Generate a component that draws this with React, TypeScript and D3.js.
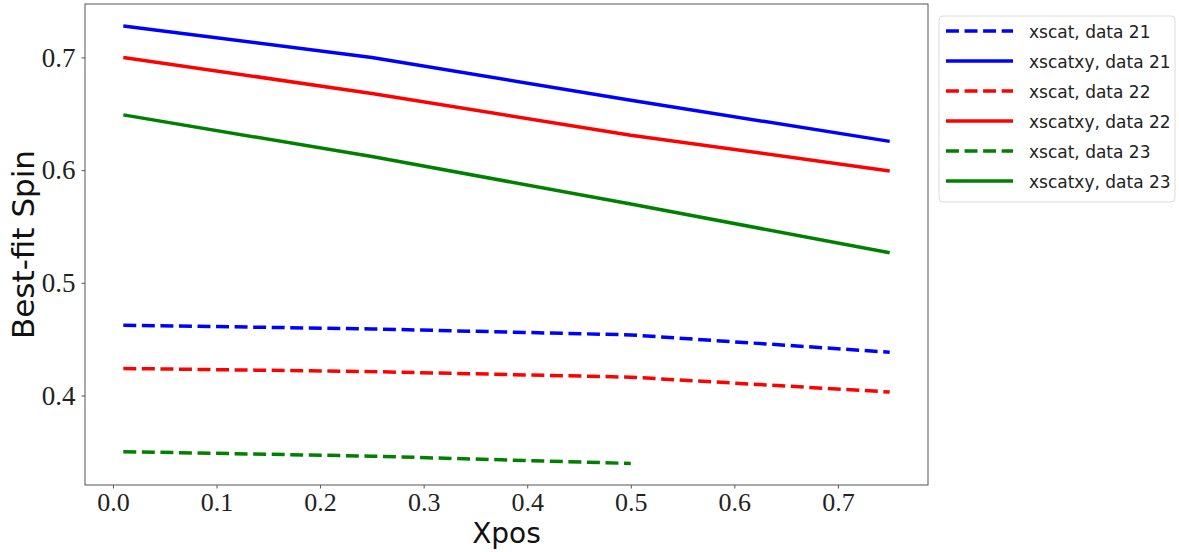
import { useRef, useEffect } from "react";
import * as d3 from "d3";

const xpos = [0.01, 0.25, 0.5, 0.75];

const xscat21 = [0.4624, 0.4591, 0.4538, 0.4384];
const xscatxy21 = [0.7278, 0.7, 0.662, 0.6255];
const xscat22 = [0.424, 0.4212, 0.4163, 0.4031];
const xscatxy22 = [0.7, 0.668, 0.631, 0.5993];
const xscat23 = [0.3502, 0.3462, 0.3397];
const xscatxy23 = [0.649, 0.612, 0.570, 0.5266];

const xTicks = [0.0, 0.1, 0.2, 0.3, 0.4, 0.5, 0.6, 0.7];
const yTicks = [0.4, 0.5, 0.6, 0.7];

const series = [
  { label: "xscat, data 21", values: xscat21, color: "#0000ff", dashed: true },
  { label: "xscatxy, data 21", values: xscatxy21, color: "#0000ff", dashed: false },
  { label: "xscat, data 22", values: xscat22, color: "#ff0000", dashed: true },
  { label: "xscatxy, data 22", values: xscatxy22, color: "#ff0000", dashed: false },
  { label: "xscat, data 23", values: xscat23, color: "#008000", dashed: true },
  { label: "xscatxy, data 23", values: xscatxy23, color: "#008000", dashed: false },
];

const App = () => {
  const ref = useRef<SVGSVGElement | null>(null);

  useEffect(() => {
    const width = 1179;
    const height = 552;
    const m = { left: 85, top: 4, right: 928, bottom: 485 };
    const lw = 3.5;
    const dash = "12.95,5.6";

    const svg = d3.select(ref.current);
    svg.selectAll("*").remove();
    svg.attr("width", width).attr("height", height);

    const x = d3.scaleLinear().domain([-0.027, 0.787]).range([m.left, m.right]);
    const y = d3.scaleLinear().domain([0.3206, 0.7474]).range([m.bottom, m.top]);

    const serif = "'Liberation Serif', 'Times New Roman', serif";
    const sans = "'DejaVu Sans', sans-serif";

    // lines
    const line = d3
      .line<number>()
      .x((_, i) => x(xpos[i]))
      .y((d) => y(d));

    const plot = svg.append("g");
    series.forEach((s) => {
      plot
        .append("path")
        .attr("d", line(s.values))
        .attr("fill", "none")
        .attr("stroke", s.color)
        .attr("stroke-width", lw)
        .attr("stroke-dasharray", s.dashed ? dash : null);
    });

    // frame
    svg
      .append("rect")
      .attr("x", m.left)
      .attr("y", m.top)
      .attr("width", m.right - m.left)
      .attr("height", m.bottom - m.top)
      .attr("fill", "none")
      .attr("stroke", "#555")
      .attr("stroke-width", 1);

    // x axis
    const xAxis = svg
      .append("g")
      .attr("transform", `translate(0,${m.bottom})`)
      .call(
        d3
          .axisBottom(x)
          .tickValues(xTicks)
          .tickFormat(d3.format(".1f"))
          .tickSize(3.5)
          .tickPadding(4)
      );
    xAxis.select(".domain").remove();
    xAxis.selectAll("line").attr("stroke", "#555");
    xAxis
      .selectAll("text")
      .attr("fill", "#222")
      .style("font-family", serif)
      .style("font-size", "26px");

    // y axis
    const yAxis = svg
      .append("g")
      .attr("transform", `translate(${m.left},0)`)
      .call(
        d3
          .axisLeft(y)
          .tickValues(yTicks)
          .tickFormat(d3.format(".1f"))
          .tickSize(3.5)
          .tickPadding(6)
      );
    yAxis.select(".domain").remove();
    yAxis.selectAll("line").attr("stroke", "#555");
    yAxis
      .selectAll("text")
      .attr("fill", "#222")
      .style("font-family", serif)
      .style("font-size", "27px");

    // axis labels
    svg
      .append("text")
      .attr("x", (m.left + m.right) / 2)
      .attr("y", 543)
      .attr("text-anchor", "middle")
      .style("font-family", sans)
      .style("font-size", "28px")
      .attr("fill", "#111")
      .text("Xpos");

    svg
      .append("text")
      .attr("transform", `translate(34,${(m.top + m.bottom) / 2}) rotate(-90)`)
      .attr("text-anchor", "middle")
      .style("font-family", sans)
      .style("font-size", "31px")
      .attr("fill", "#111")
      .text("Best-fit Spin");

    // legend
    const lg = svg.append("g").attr("transform", "translate(939,16)");
    lg.append("rect")
      .attr("width", 236)
      .attr("height", 186)
      .attr("rx", 4)
      .attr("fill", "white")
      .attr("stroke", "#dcdcdc")
      .attr("stroke-width", 1);
    series.forEach((s, i) => {
      const ly = 15 + i * 30;
      lg.append("line")
        .attr("x1", 7)
        .attr("x2", 74)
        .attr("y1", ly)
        .attr("y2", ly)
        .attr("stroke", s.color)
        .attr("stroke-width", lw)
        .attr("stroke-dasharray", s.dashed ? dash : null);
      lg.append("text")
        .attr("x", 90)
        .attr("y", ly + 6.5)
        .style("font-family", sans)
        .style("font-size", "17px")
        .attr("fill", "#222")
        .text(s.label);
    });
  }, []);

  return (
    <svg
      ref={ref}
      style={{ display: "block", position: "absolute", left: 0, top: 0 }}
    />
  );
};

export default App;
